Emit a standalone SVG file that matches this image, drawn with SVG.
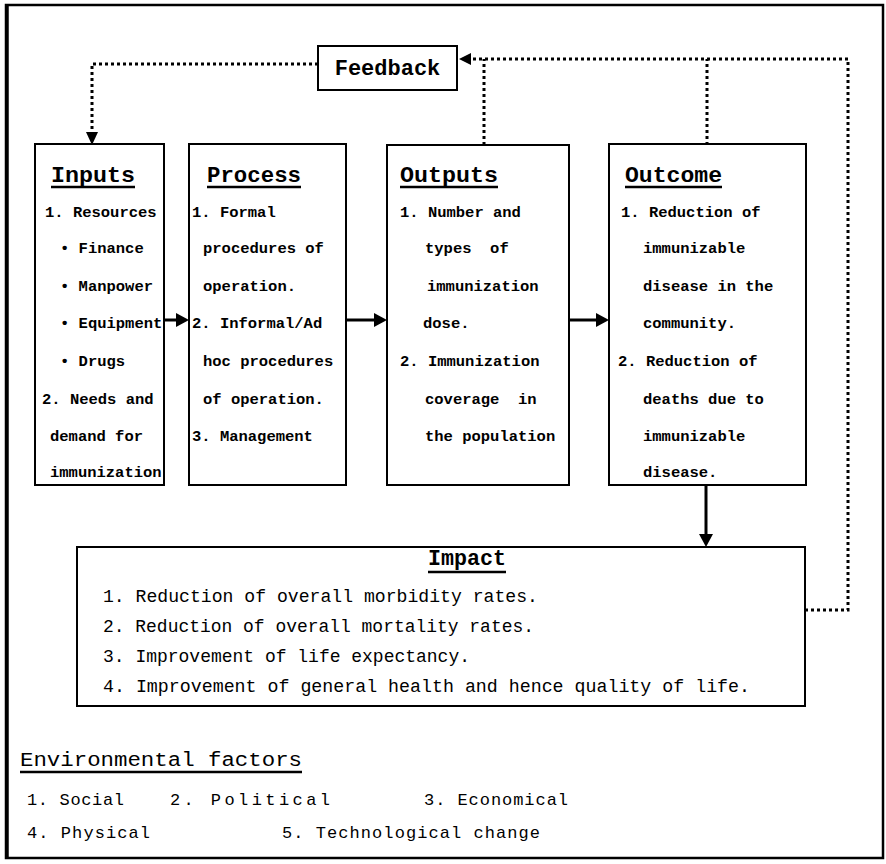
<svg xmlns="http://www.w3.org/2000/svg" width="886" height="864" viewBox="0 0 886 864">
<style>
  .box{fill:#fff;stroke:#000;stroke-width:2}
  .title{font-family:"Liberation Mono","Courier New",monospace;font-weight:bold;font-size:22px;fill:#000}
  .body{font-family:"Liberation Mono","Courier New",monospace;font-weight:bold;font-size:15.5px;fill:#000}
  .imp{font-family:"Liberation Mono","Courier New",monospace;font-size:18.2px;fill:#000}
  .env{font-family:"Liberation Mono","Courier New",monospace;font-size:17px;fill:#000}
  .envt{font-family:"Liberation Mono","Courier New",monospace;font-size:20px;fill:#000}
  .ul{stroke:#000;stroke-width:2.5}
  .solid{stroke:#000;stroke-width:3;fill:none}
  .dot{stroke:#000;stroke-width:3;fill:none;stroke-dasharray:3 3}
</style>
<defs>
  <marker id="ah" viewBox="0 0 10 10" refX="10" refY="5" markerWidth="4.5" markerHeight="4.5" orient="auto" markerUnits="strokeWidth">
    <path d="M0,0 L10,5 L0,10 z" fill="#000"/>
  </marker>
</defs>

<rect x="6" y="5" width="877" height="853" fill="#fff" stroke="#000" stroke-width="2.5"/>
<line x1="7" y1="5" x2="7" y2="858" stroke="#000" stroke-width="3.5"/>

<g id="connectors">
  <polyline class="dot" points="318,64 92,64 92,133" />
  <path d="M86,132 L98,132 L92,145 z" fill="#000"/>
  <polyline class="dot" points="805,610 848,610 848,59 470,59"/>
  <path d="M471,53 L471,65 L459,59 z" fill="#000"/>
  <line class="dot" x1="484" y1="145" x2="484" y2="59"/>
  <line class="dot" x1="707" y1="145" x2="707" y2="59"/>
  <line class="solid" x1="164" y1="320" x2="177" y2="320"/>
  <path d="M176,313 L189,320 L176,327 z" fill="#000"/>
  <line class="solid" x1="346" y1="320" x2="375" y2="320"/>
  <path d="M374,313 L387,320 L374,327 z" fill="#000"/>
  <line class="solid" x1="569" y1="320" x2="597" y2="320"/>
  <path d="M596,313 L609,320 L596,327 z" fill="#000"/>
  <line class="solid" x1="706" y1="485" x2="706" y2="535"/>
  <path d="M699,534 L713,534 L706,547 z" fill="#000"/>
</g>

<g id="feedback">
  <rect class="box" x="318" y="46" width="139" height="44"/>
  <text class="title" x="387.5" y="75" text-anchor="middle">Feedback</text>
</g>

<g id="inputs">
  <rect class="box" x="35" y="144" width="129" height="341"/>
  <text class="title" x="51" y="182" textLength="84" lengthAdjust="spacingAndGlyphs">Inputs</text>
  <line class="ul" x1="51" y1="187" x2="135" y2="187"/>
  <text class="body" x="45" y="217">1. Resources</text>
  <text class="body" x="60" y="253">• Finance</text>
  <text class="body" x="60" y="291">• Manpower</text>
  <text class="body" x="60" y="328">• Equipment</text>
  <text class="body" x="60" y="366">• Drugs</text>
  <text class="body" x="42" y="404">2. Needs and</text>
  <text class="body" x="50" y="441">demand for</text>
  <text class="body" x="50" y="477">immunization</text>
</g>

<g id="process">
  <rect class="box" x="189" y="144" width="157" height="341"/>
  <text class="title" x="207" y="182" textLength="94" lengthAdjust="spacingAndGlyphs">Process</text>
  <line class="ul" x1="207" y1="187" x2="301" y2="187"/>
  <text class="body" x="192" y="217">1. Formal</text>
  <text class="body" x="203" y="253">procedures of</text>
  <text class="body" x="203" y="291">operation.</text>
  <text class="body" x="192" y="328">2. Informal/Ad</text>
  <text class="body" x="203" y="366">hoc procedures</text>
  <text class="body" x="203" y="404">of operation.</text>
  <text class="body" x="192" y="441">3. Management</text>
</g>

<g id="outputs">
  <rect class="box" x="387" y="145" width="182" height="340"/>
  <text class="title" x="400" y="182" textLength="98" lengthAdjust="spacingAndGlyphs">Outputs</text>
  <line class="ul" x1="400" y1="187" x2="498" y2="187"/>
  <text class="body" x="400" y="217">1. Number and</text>
  <text class="body" x="425" y="253" xml:space="preserve">types  of</text>
  <text class="body" x="427" y="291">immunization</text>
  <text class="body" x="423" y="328">dose.</text>
  <text class="body" x="400" y="366">2. Immunization</text>
  <text class="body" x="425" y="404" xml:space="preserve">coverage  in</text>
  <text class="body" x="425" y="441">the population</text>
</g>

<g id="outcome">
  <rect class="box" x="609" y="144" width="197" height="341"/>
  <text class="title" x="625" y="182" textLength="97" lengthAdjust="spacingAndGlyphs">Outcome</text>
  <line class="ul" x1="625" y1="187" x2="722" y2="187"/>
  <text class="body" x="621" y="217">1. Reduction of</text>
  <text class="body" x="643" y="253">immunizable</text>
  <text class="body" x="643" y="291">disease in the</text>
  <text class="body" x="643" y="328">community.</text>
  <text class="body" x="618" y="366">2. Reduction of</text>
  <text class="body" x="643" y="404">deaths due to</text>
  <text class="body" x="643" y="441">immunizable</text>
  <text class="body" x="643" y="477">disease.</text>
</g>

<g id="impact">
  <rect class="box" x="77" y="547" width="728" height="159"/>
  <text class="title" x="428" y="565" font-size="21" textLength="78" lengthAdjust="spacingAndGlyphs">Impact</text>
  <line class="ul" x1="428" y1="572" x2="506" y2="572"/>
  <text class="imp" x="103" y="602" textLength="435" lengthAdjust="spacingAndGlyphs">1. Reduction of overall morbidity rates.</text>
  <text class="imp" x="103" y="632" textLength="431" lengthAdjust="spacingAndGlyphs">2. Reduction of overall mortality rates.</text>
  <text class="imp" x="103" y="662" textLength="367" lengthAdjust="spacingAndGlyphs">3. Improvement of life expectancy.</text>
  <text class="imp" x="103" y="692" textLength="647" lengthAdjust="spacingAndGlyphs">4. Improvement of general health and hence quality of life.</text>
</g>

<g id="environment">
  <text class="envt" x="20" y="766" textLength="282" lengthAdjust="spacingAndGlyphs">Environmental factors</text>
  <line class="ul" x1="20" y1="772" x2="302" y2="772"/>
  <text class="env" x="27" y="805" textLength="97" lengthAdjust="spacing">1. Social</text>
  <text class="env" x="170" y="805" textLength="160" lengthAdjust="spacing">2. Political</text>
  <text class="env" x="424" y="805" textLength="144" lengthAdjust="spacing">3. Economical</text>
  <text class="env" x="27" y="838" textLength="123" lengthAdjust="spacing">4. Physical</text>
  <text class="env" x="282" y="838" textLength="258" lengthAdjust="spacing">5. Technological change</text>
</g>
</svg>
